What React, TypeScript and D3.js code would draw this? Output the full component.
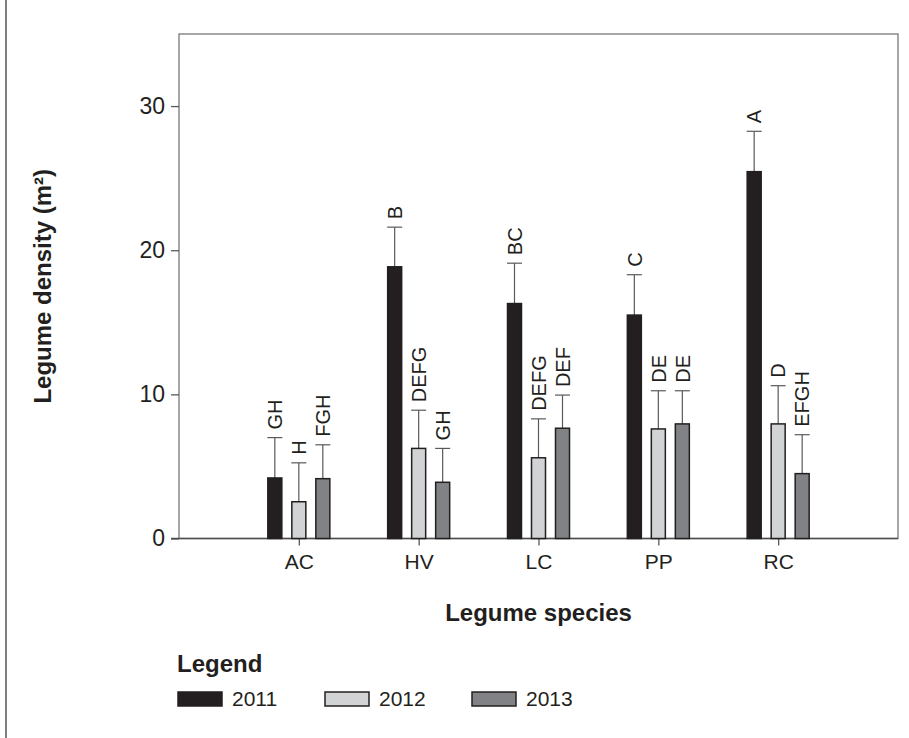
import { useEffect, useRef } from 'react'
import * as d3 from 'd3'

const species = ['AC', 'HV', 'LC', 'PP', 'RC']
const years = ['2011', '2012', '2013']
const means2011 = [4.2, 18.85, 16.3, 15.5, 25.45]
const means2012 = [2.55, 6.25, 5.6, 7.6, 7.95]
const means2013 = [4.15, 3.9, 7.65, 7.95, 4.5]
const upper2011 = [7.0, 21.6, 19.1, 18.3, 28.25]
const upper2012 = [5.25, 8.9, 8.3, 10.25, 10.6]
const upper2013 = [6.5, 6.25, 9.95, 10.25, 7.2]
const letters2011 = ['GH', 'B', 'BC', 'C', 'A']
const letters2012 = ['H', 'DEFG', 'DEFG', 'DE', 'D']
const letters2013 = ['FGH', 'GH', 'DEF', 'DE', 'EFGH']
const yTicks = [0, 10, 20, 30]
const colors = ['#231f20', '#d1d3d4', '#808285']

export default function App() {
    const svgRef = useRef<SVGSVGElement>(null)

    useEffect(() => {
        if (!svgRef.current) return
        const svg = d3.select(svgRef.current)
        svg.selectAll('*').remove()

        const font = '"Liberation Sans", Arial, sans-serif'
        const ink = '#231f20'

        const x = d3.scaleLinear().domain([0, species.length + 1]).range([179, 898])
        const y = d3.scaleLinear().domain([0, 35]).range([538.5, 34])
        const offset = d3.scalePoint().domain(years).range([-24, 24])
        const barW = 14

        // left figure border
        svg.append('line')
            .attr('x1', 6).attr('x2', 6).attr('y1', 0).attr('y2', 738)
            .attr('stroke', '#3a3a3a').attr('stroke-width', 1.3)

        // plot frame
        svg.append('rect')
            .attr('x', x(0)).attr('y', y(35))
            .attr('width', x(6) - x(0)).attr('height', y(0) - y(35))
            .attr('fill', 'none').attr('stroke', '#77787b').attr('stroke-width', 1.3)

        // y axis
        const yAxis = svg.append('g')
            .attr('transform', `translate(${x(0)},0)`)
            .call(d3.axisLeft(y).tickValues(yTicks).tickSize(8).tickPadding(6).tickFormat(d3.format('d')))
        yAxis.select('.domain').remove()
        yAxis.selectAll('line').attr('stroke', '#58595b').attr('stroke-width', 1.3)
        yAxis.selectAll('text')
            .attr('font-family', font).attr('font-size', 23).attr('fill', ink)

        // x axis
        const xAxis = svg.append('g')
            .attr('transform', `translate(0,${y(0)})`)
            .call(d3.axisBottom(x).tickValues(d3.range(1, species.length + 1)).tickSize(7).tickPadding(9)
                .tickFormat(d => species[(d as number) - 1]))
        xAxis.select('.domain').remove()
        xAxis.selectAll('line').attr('stroke', '#58595b').attr('stroke-width', 1.3)
        xAxis.selectAll('text')
            .attr('font-family', font).attr('font-size', 21).attr('fill', ink)
        svg.append('line')
            .attr('x1', 171).attr('x2', x(6)).attr('y1', y(0)).attr('y2', y(0))
            .attr('stroke', '#4d4d4f').attr('stroke-width', 1.5)

        const series = [
            { year: '2011', means: means2011, upper: upper2011, letters: letters2011, color: colors[0] },
            { year: '2012', means: means2012, upper: upper2012, letters: letters2012, color: colors[1] },
            { year: '2013', means: means2013, upper: upper2013, letters: letters2013, color: colors[2] },
        ]

        series.forEach(s => {
            const g = svg.append('g')
            species.forEach((sp, i) => {
                const cx = x(i + 1) + offset(s.year)!
                // error bar
                g.append('line')
                    .attr('x1', cx).attr('x2', cx)
                    .attr('y1', y(s.means[i])).attr('y2', y(s.upper[i]))
                    .attr('stroke', '#58595b').attr('stroke-width', 1.2)
                g.append('line')
                    .attr('x1', cx - 7.5).attr('x2', cx + 7.5)
                    .attr('y1', y(s.upper[i])).attr('y2', y(s.upper[i]))
                    .attr('stroke', '#58595b').attr('stroke-width', 1.2)
                // bar
                g.append('rect')
                    .attr('x', cx - barW / 2).attr('width', barW)
                    .attr('y', y(s.means[i])).attr('height', y(0) - y(s.means[i]))
                    .attr('fill', s.color).attr('stroke', ink).attr('stroke-width', 1.5)
                // significance letters
                g.append('text')
                    .attr('transform', `translate(${cx},${y(s.upper[i]) - 8}) rotate(-90)`)
                    .attr('dy', '0.36em')
                    .attr('font-family', font).attr('font-size', 20).attr('fill', ink)
                    .text(s.letters[i])
            })
        })

        // axis titles
        svg.append('text')
            .attr('transform', `translate(51,${(y(0) + y(35)) / 2}) rotate(-90)`)
            .attr('text-anchor', 'middle')
            .attr('font-family', font).attr('font-size', 24).attr('font-weight', 'bold').attr('fill', ink)
            .text('Legume density (m²)')

        svg.append('text')
            .attr('x', (x(0) + x(6)) / 2).attr('y', 621)
            .attr('text-anchor', 'middle')
            .attr('font-family', font).attr('font-size', 24).attr('font-weight', 'bold').attr('fill', ink)
            .text('Legume species')

        // legend
        svg.append('text')
            .attr('x', 177).attr('y', 672)
            .attr('font-family', font).attr('font-size', 24).attr('font-weight', 'bold').attr('fill', ink)
            .text('Legend')

        const legend = svg.append('g')
            .selectAll('g')
            .data(series)
            .enter()
            .append('g')
            .attr('transform', (_, i) => `translate(${178 + i * 147},692)`)
        legend.append('rect')
            .attr('width', 44).attr('height', 14)
            .attr('fill', d => d.color).attr('stroke', ink).attr('stroke-width', 1.5)
        legend.append('text')
            .attr('x', 54).attr('y', 14)
            .attr('font-family', font).attr('font-size', 21).attr('fill', ink)
            .text(d => d.year)
    }, [])

    return (
        <svg ref={svgRef} width={909} height={738}
            style={{ position: 'absolute', left: 0, top: 0, background: '#fff' }}></svg>
    )
}
